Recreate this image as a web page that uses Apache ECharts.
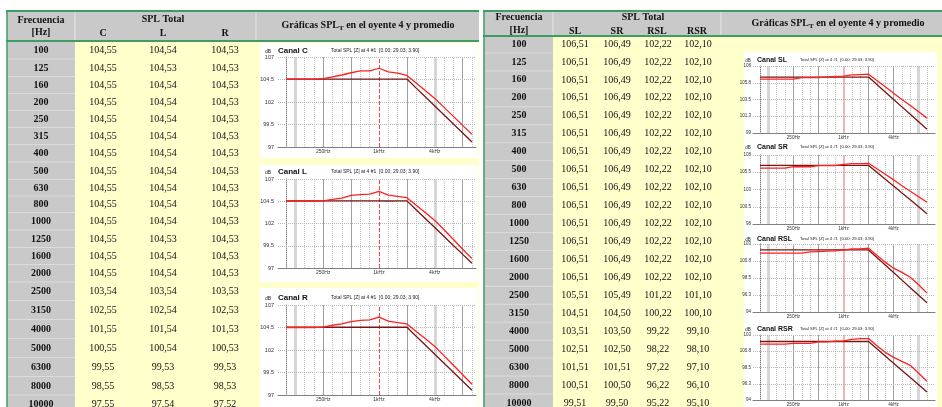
<!DOCTYPE html>
<html><head><meta charset="utf-8">
<script src="https://cdn.jsdelivr.net/npm/echarts@6/dist/echarts.min.js"></script>
<style>html,body{margin:0;padding:0;background:#fff}#c{width:942px;height:407px}</style>
</head><body><div id="c"></div>
<script>
// ---------- DATA ----------
const freqs = [100,125,160,200,250,315,400,500,630,800,1000,1250,1600,2000,2500,3150,4000,5000,6300,8000,10000];
// SPL Total table values (also the dark curve of each mini chart)
const splC  = [104.55,104.55,104.55,104.55,104.55,104.55,104.55,104.55,104.55,104.55,104.55,104.55,104.55,104.55,103.54,102.55,101.55,100.55,99.55,98.55,97.55];
const splL  = [104.54,104.53,104.54,104.54,104.54,104.54,104.54,104.54,104.54,104.54,104.54,104.53,104.54,104.54,103.54,102.54,101.54,100.54,99.53,98.53,97.54];
const splR  = [104.53,104.53,104.53,104.53,104.53,104.53,104.53,104.53,104.53,104.53,104.53,104.53,104.53,104.53,103.53,102.53,101.53,100.53,99.53,98.53,97.52];
const splSL = [106.51,106.51,106.51,106.51,106.51,106.51,106.51,106.51,106.51,106.51,106.51,106.51,106.51,106.51,105.51,104.51,103.51,102.51,101.51,100.51,99.51];
const splSR = [106.49,106.49,106.49,106.49,106.49,106.49,106.49,106.49,106.49,106.49,106.49,106.49,106.49,106.49,105.49,104.50,103.50,102.50,101.51,100.50,99.50];
const splRSL= [102.22,102.22,102.22,102.22,102.22,102.22,102.22,102.22,102.22,102.22,102.22,102.22,102.22,102.22,101.22,100.22,99.22,98.22,97.22,96.22,95.22];
const splRSR= [102.10,102.10,102.10,102.10,102.10,102.10,102.10,102.10,102.10,102.10,102.10,102.10,102.10,102.10,101.10,100.10,99.10,98.10,97.10,96.10,95.10];
const measC  = [104.55,104.55,104.55,104.55,104.6,104.8,105.0,105.25,105.45,105.45,105.75,105.35,105.2,104.95,104.1,103.25,102.4,101.4,100.4,99.4,98.4];
const measL  = [104.5,104.5,104.5,104.5,104.55,104.7,104.85,105.15,105.25,105.3,105.6,105.2,105.05,104.9,104.05,103.2,102.35,101.3,100.2,99.1,98.05];
const measR  = [104.5,104.5,104.5,104.5,104.55,104.75,104.9,105.15,105.3,105.35,105.65,105.2,105.05,104.9,104.05,103.25,102.4,101.35,100.3,99.25,98.2];
const measSL = [106.25,106.25,106.25,106.25,106.25,106.45,106.45,106.45,106.55,106.6,106.65,106.8,106.85,106.9,106.05,105.2,104.35,103.5,102.7,101.85,101.0];
const measSR = [106.1,106.1,106.1,106.1,106.3,106.3,106.3,106.45,106.45,106.45,106.65,106.75,106.75,106.8,106.0,105.2,104.4,103.55,102.75,101.95,101.15];
const measRSL= [101.8,101.8,101.8,101.8,101.8,101.8,101.95,102.0,102.05,102.1,102.2,102.35,102.35,102.45,101.5,100.6,99.8,99.25,98.6,97.6,96.5];
const measRSR= [101.75,101.75,101.75,101.75,101.85,101.85,101.85,102.05,102.05,102.15,102.2,102.4,102.5,102.5,101.5,100.6,99.9,99.35,98.8,97.7,96.6];
// tick labels
const xTickIdx = [4,10,16];
const xTickLabels = ['250Hz','1kHz','4kHz'];
const yTicksCLR = [97,99.5,102,104.5,107];
const yTicksSL  = [99,101.25,103.5,105.75,108];
const yTicksSR  = [98,100.5,103,105.5,108];
const yTicksRS  = [94,96.25,98.5,100.75,103];
const octaveIdx = [1,4,7,10,13,16,19];
const subtitle = 'Total SPL [Z] at 4 #1  [0.00; 29.03; 3.90]';

// ---------- LAYOUT ----------
const leftRowY = [50,68,85,102,119,136,153,171,188,204,221,239,256,273,291,310,329,348,367,386,404];
const rightRowY = freqs.map((f,i)=>44+i*17.95);
const panels = [
  {name:'Canal C',  spl:splC,  meas:measC,  side:'L', g:{left:278,top:57,width:198,height:90},  yMin:97,yMax:107,yt:yTicksCLR, ty:51},
  {name:'Canal L',  spl:splL,  meas:measL,  side:'L', g:{left:278,top:179,width:198,height:89}, yMin:97,yMax:107,yt:yTicksCLR, ty:172},
  {name:'Canal R',  spl:splR,  meas:measR,  side:'L', g:{left:278,top:305,width:198,height:90}, yMin:97,yMax:107,yt:yTicksCLR, ty:298},
  {name:'Canal SL', spl:splSL, meas:measSL, side:'R', g:{left:753,top:66,width:182,height:67},  yMin:99,yMax:108,yt:yTicksSL, ty:60},
  {name:'Canal SR', spl:splSR, meas:measSR, side:'R', g:{left:753,top:155,width:182,height:69}, yMin:98,yMax:108,yt:yTicksSR, ty:147},
  {name:'Canal RSL',spl:splRSL,meas:measRSL,side:'R', g:{left:753,top:244,width:182,height:68}, yMin:94,yMax:103,yt:yTicksRS, ty:239},
  {name:'Canal RSR',spl:splRSR,meas:measRSR,side:'R', g:{left:753,top:335,width:182,height:68}, yMin:94,yMax:103,yt:yTicksRS, ty:329}
];

const fmt = v => v.toFixed(2).replace('.', ',');
const SERIF = '"Liberation Serif","Times New Roman",serif';
const SANS = '"Liberation Sans",Arial,sans-serif';
const GREEN = '#3f9c62', GRAY = '#c9c9c9', YELLOW = '#ffffcc';

const G = [];
function rect(x,y,w,h,fill,z){G.push({type:'rect',silent:true,z:z==null?-10:z,shape:{x:x,y:y,width:w,height:h},style:{fill:fill}});}
function seg(x1,y1,x2,y2,stroke,lw,z){G.push({type:'line',silent:true,z:z==null?-5:z,shape:{x1:x1,y1:y1,x2:x2,y2:y2},style:{stroke:stroke,lineWidth:lw}});}
function txt(t,x,y,font,align,fill,rich){const s={text:t,font:font,textAlign:align||'center',textVerticalAlign:'middle',fill:fill||'#111'};if(rich)s.rich=rich;G.push({type:'text',silent:true,z:50,x:x,y:y,style:s});}

// Left table
rect(7,11,472,30,GRAY);
rect(7,41,68,366,GRAY);
rect(75,41,404,366,YELLOW);
rect(260,43,218,115,'#fff',-8); rect(260,165,218,117,'#fff',-8); rect(260,288,218,119,'#fff',-8);
seg(75,12,75,40,'#e6e6e6',1); seg(256,12,256,40,'#e6e6e6',1);
for(let i=0;i<leftRowY.length-1;i++){const y=(leftRowY[i]+leftRowY[i+1])/2; seg(8,y,75,y,'#dcdcdc',1);}
seg(6,11,479,11,GREEN,2); seg(6,41,479,41,GREEN,2); seg(7,11,7,407,GREEN,1.5);
const hb = 'bold 10px '+SERIF, hn = '10px '+SERIF;
txt('Frecuencia',41,20,hb); txt('[Hz]',41,32,hb); txt('SPL Total',163,19,hb);
txt('C',103,33,hb); txt('L',163,33,hb); txt('R',225,33,hb);
const richT = {b:{font:'bold 10px '+SERIF,fill:'#111'}, s:{font:'bold 7px '+SERIF,fill:'#111',padding:[6,0,0,0]}};
txt('{b|Gráficas SPL}{s|T}{b| en el oyente 4 y promedio}',368,25,hb,'center','#111',richT);
freqs.forEach((f,i)=>{const y=leftRowY[i];
  txt(String(f),41,y,hb); txt(fmt(splC[i]),103,y,hn); txt(fmt(splL[i]),163,y,hn); txt(fmt(splR[i]),225,y,hn);});

// Right table
rect(484,11,458,25,GRAY);
rect(484,36,69,371,GRAY);
rect(553,36,389,371,YELLOW);
rect(744,52,193,355,'#fff',-8);
seg(553,12,553,35,'#e6e6e6',1); seg(721,12,721,35,'#e6e6e6',1);
for(let i=0;i<rightRowY.length-1;i++){const y=(rightRowY[i]+rightRowY[i+1])/2; seg(485,y,553,y,'#dcdcdc',1);}
seg(483,11,942,11,GREEN,2); seg(483,36,942,36,GREEN,2); seg(484,11,484,407,GREEN,1.5);
txt('Frecuencia',519,17,hb); txt('[Hz]',519,30,hb); txt('SPL Total',643,17,hb);
txt('SL',575,31,hb); txt('SR',617,31,hb); txt('RSL',657,31,hb); txt('RSR',697,31,hb);
txt('{b|Gráficas SPL}{s|T}{b| en el oyente 4 y promedio}',838,23,hb,'center','#111',richT);
freqs.forEach((f,i)=>{const y=rightRowY[i];
  txt(String(f),519,y,hb); txt(fmt(splSL[i]),575,y,hn); txt(fmt(splSR[i]),617,y,hn); txt(fmt(splRSL[i]),658,y,hn); txt(fmt(splRSR[i]),698,y,hn);});

// Chart titles
panels.forEach(p=>{
  const L = p.side==='L';
  txt('dB', L?268:748, p.ty+1, (L?5:4.5)+'px '+SANS,'center','#222');
  txt(p.name, L?278:757, p.ty, 'bold '+(L?8:7)+'px '+SANS,'left','#111');
  txt(subtitle, L?331:800, p.ty, (L?5:4.2)+'px '+SANS,'left','#222');
});

// ---------- CHART OPTION ----------
const grids=[],xAxes=[],yAxes=[],series=[];
panels.forEach((p,k)=>{
  const L = p.side==='L';
  const xMin = L?-0.86:-0.84, xMax = L?20.43:20.96;
  grids.push(Object.assign({containLabel:false},p.g));
  xAxes.push({type:'value',gridIndex:k,min:xMin,max:xMax,
    axisLine:{show:true,lineStyle:{color:'#808080',width:1}},axisTick:{show:false},splitLine:{show:false},
    axisLabel:{customValues:xTickIdx,formatter:v=>xTickLabels[xTickIdx.indexOf(Math.round(v))]||'',fontSize:L?5:4.6,color:'#333',margin:2,fontFamily:SANS}});
  yAxes.push({type:'value',gridIndex:k,min:p.yMin,max:p.yMax,
    axisLine:{show:true,lineStyle:{color:'#808080',width:1}},axisTick:{show:false},splitLine:{show:false},
    axisLabel:{customValues:p.yt,formatter:v=>String(Math.round(v*10)/10),fontSize:L?5.5:4.5,color:'#333',margin:L?4:2,fontFamily:SANS}});
  const ml=[];
  const nMax = L?20:21;
  for(let i=0;i<=nMax;i++){
    let ls;
    if(i===10) ls = L?{color:'#ff4040',type:'dashed',width:1}:{color:'#f4b4b4',type:'solid',width:2};
    else if(i===1 || i===(L?16:19)) ls={color:'#d6d6d6',type:'solid',width:3};
    else if(octaveIdx.indexOf(i)>=0) ls={color:'#a0a0a0',type:'solid',width:1};
    else ls={color:'#c4c4c4',type:'dotted',width:1};
    ml.push({xAxis:i,lineStyle:ls});
  }
  p.yt.forEach((v,j)=>{ if(j>0) ml.push({yAxis:v,lineStyle:{color:'#b8b8b8',type:'dotted',width:1}}); });
  series.push({type:'line',xAxisIndex:k,yAxisIndex:k,data:p.spl.map((v,i)=>[i,v]),showSymbol:false,silent:true,
    lineStyle:{opacity:0},z:1,
    markLine:{symbol:'none',silent:true,animation:false,label:{show:false},z:1,data:ml}});
  series.push({type:'line',xAxisIndex:k,yAxisIndex:k,data:p.spl.map((v,i)=>[i,v]),showSymbol:false,silent:true,
    lineStyle:{color:'#7a1515',width:1.3},z:10});
  series.push({type:'line',xAxisIndex:k,yAxisIndex:k,data:p.meas.map((v,i)=>[i,v]),showSymbol:false,silent:true,
    lineStyle:{color:'#ff2020',width:1.3},z:11});
});

const chart = echarts.init(document.getElementById('c'),null,{renderer:'canvas'});
chart.setOption({animation:false,backgroundColor:'#fff',grid:grids,xAxis:xAxes,yAxis:yAxes,series:series,graphic:{elements:G}});
</script></body></html>
